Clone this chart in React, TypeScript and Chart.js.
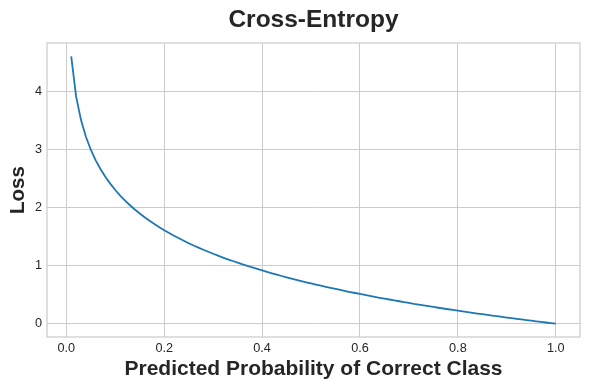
import React, { useEffect, useRef } from "react";
import { Chart, registerables } from "chart.js";

Chart.register(...registerables);

const probabilities: number[] = [
  0.01, 0.02, 0.03, 0.04, 0.05, 0.06, 0.07, 0.08, 0.09, 0.10,
  0.11, 0.12, 0.13, 0.14, 0.15, 0.16, 0.17, 0.18, 0.19, 0.20,
  0.21, 0.22, 0.23, 0.24, 0.25, 0.26, 0.27, 0.28, 0.29, 0.30,
  0.31, 0.32, 0.33, 0.34, 0.35, 0.36, 0.37, 0.38, 0.39, 0.40,
  0.41, 0.42, 0.43, 0.44, 0.45, 0.46, 0.47, 0.48, 0.49, 0.50,
  0.51, 0.52, 0.53, 0.54, 0.55, 0.56, 0.57, 0.58, 0.59, 0.60,
  0.61, 0.62, 0.63, 0.64, 0.65, 0.66, 0.67, 0.68, 0.69, 0.70,
  0.71, 0.72, 0.73, 0.74, 0.75, 0.76, 0.77, 0.78, 0.79, 0.80,
  0.81, 0.82, 0.83, 0.84, 0.85, 0.86, 0.87, 0.88, 0.89, 0.90,
  0.91, 0.92, 0.93, 0.94, 0.95, 0.96, 0.97, 0.98, 0.99, 1.00,
];

const lossValues: number[] = [
  4.605, 3.912, 3.507, 3.219, 2.996, 2.813, 2.659, 2.526, 2.408, 2.303,
  2.207, 2.120, 2.040, 1.966, 1.897, 1.833, 1.772, 1.715, 1.661, 1.609,
  1.561, 1.514, 1.470, 1.427, 1.386, 1.347, 1.309, 1.273, 1.238, 1.204,
  1.171, 1.139, 1.109, 1.079, 1.050, 1.022, 0.994, 0.968, 0.942, 0.916,
  0.892, 0.868, 0.844, 0.821, 0.799, 0.777, 0.755, 0.734, 0.713, 0.693,
  0.673, 0.654, 0.635, 0.616, 0.598, 0.580, 0.562, 0.545, 0.528, 0.511,
  0.494, 0.478, 0.462, 0.446, 0.431, 0.416, 0.400, 0.386, 0.371, 0.357,
  0.342, 0.329, 0.315, 0.301, 0.288, 0.274, 0.261, 0.248, 0.236, 0.223,
  0.211, 0.198, 0.186, 0.174, 0.163, 0.151, 0.139, 0.128, 0.117, 0.105,
  0.094, 0.083, 0.073, 0.062, 0.051, 0.041, 0.030, 0.020, 0.010, 0.000,
];

const xTickValues: number[] = [0.0, 0.2, 0.4, 0.6, 0.8, 1.0];
const yTickValues: number[] = [0, 1, 2, 3, 4];

const titleText = "Cross-Entropy";
const xLabel = "Predicted Probability of Correct Class";
const yLabel = "Loss";

const FONT = "'Liberation Sans', Arial, sans-serif";
const TEXT = "#262626";
const GRID = "#cccccc";

const framePlugin = {
  id: "frame",
  afterDraw(chart: any) {
    const { ctx, chartArea } = chart;
    ctx.save();
    ctx.strokeStyle = GRID;
    ctx.lineWidth = 1.25;
    ctx.strokeRect(chartArea.left, chartArea.top, chartArea.right - chartArea.left, chartArea.bottom - chartArea.top);
    ctx.fillStyle = TEXT;
    ctx.font = `bold 24.5px ${FONT}`;
    ctx.textAlign = "center";
    ctx.textBaseline = "middle";
    ctx.fillText(titleText, (chartArea.left + chartArea.right) / 2, 20);
    ctx.restore();
  },
};

export default function App() {
  const ref = useRef<HTMLCanvasElement | null>(null);
  useEffect(() => {
    if (!ref.current) return;
    const data = probabilities.map((p, i) => ({ x: p, y: lossValues[i] }));
    const chart = new Chart(ref.current, {
      type: "line",
      data: {
        datasets: [
          {
            data,
            borderColor: "#1f77b4",
            borderWidth: 1.8,
            pointRadius: 0,
            tension: 0,
            fill: false,
          },
        ],
      },
      options: {
        animation: false,
        responsive: false,
        maintainAspectRatio: false,
        layout: { padding: { top: 43, right: 10, bottom: 0, left: 0 } },
        plugins: {
          legend: { display: false },
          tooltip: { enabled: false },
          title: { display: false },
        },
        scales: {
          x: {
            type: "linear",
            min: -0.0395,
            max: 1.0495,
            afterBuildTicks: (scale: any) => {
              scale.ticks = xTickValues.map((v) => ({ value: v }));
            },
            afterFit: (scale: any) => {
              scale.height = 53;
            },
            ticks: {
              color: TEXT,
              font: { family: FONT, size: 12.7 },
              padding: 4,
              maxRotation: 0,
              autoSkip: false,
              callback: (v: any) => Number(v).toFixed(1),
            },
            grid: { color: GRID, lineWidth: 1, drawTicks: false },
            border: { display: false },
            title: {
              display: true,
              text: xLabel,
              color: TEXT,
              font: { family: FONT, size: 21, weight: "bold", lineHeight: 1.2 },
              padding: { top: 0, bottom: 8.4 },
            },
          },
          y: {
            type: "linear",
            min: -0.23,
            max: 4.835,
            afterBuildTicks: (scale: any) => {
              scale.ticks = yTickValues.map((v) => ({ value: v }));
            },
            afterFit: (scale: any) => {
              scale.width = 47;
            },
            ticks: {
              color: TEXT,
              font: { family: FONT, size: 12.7 },
              padding: 5,
              autoSkip: false,
              callback: (v: any) => String(v),
            },
            grid: { color: GRID, lineWidth: 1, drawTicks: false },
            border: { display: false },
            title: {
              display: true,
              text: yLabel,
              color: TEXT,
              font: { family: FONT, size: 20.5, weight: "bold", lineHeight: 1.2 },
              padding: { top: 6.4, bottom: 6.4 },
            },
          },
        },
      },
      plugins: [framePlugin],
    });
    return () => chart.destroy();
  }, []);
  return (
    <div style={{ position: "fixed", left: 0, top: 0, width: 590, height: 390, background: "#fff" }}>
      <canvas ref={ref} width={590} height={390} style={{ width: 590, height: 390 }} />
    </div>
  );
}
